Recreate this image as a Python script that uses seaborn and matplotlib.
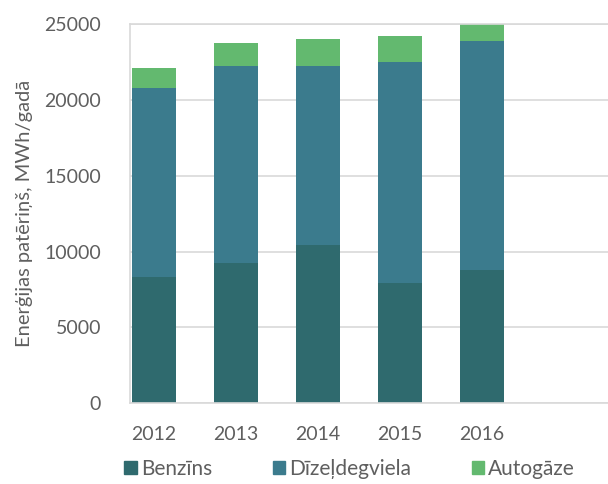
import numpy as np
import pandas as pd
import matplotlib
matplotlib.use("Agg")
import matplotlib.pyplot as plt
from matplotlib.patches import Patch
import seaborn as sns

years = ["2012", "2013", "2014", "2015", "2016"]
benzins = [8350, 9250, 10450, 7900, 8800]
dizeldegviela = [12450, 12950, 11750, 14600, 15050]
autogaze = [1300, 1550, 1800, 1700, 1150]

c_benz = "#2f6a6e"
c_diz = "#3b7b8d"
c_auto = "#63b96f"
text_c = "#5f5f5f"

sns.set_style("white")
plt.rcParams["font.family"] = ["Lato", "DejaVu Sans"]

df = pd.DataFrame({"year": years, "benz": benzins, "diz": dizeldegviela, "auto": autogaze})
df["lvl2"] = df["benz"] + df["diz"]
df["lvl3"] = df["lvl2"] + df["auto"]

fig = plt.figure(figsize=(6.08, 4.84), dpi=100)
ax = fig.add_axes([0.214, 0.1667, 0.786, 0.7837])

# stacked bars: draw cumulative totals from the top layer down
for col, color in [("lvl3", c_auto), ("lvl2", c_diz), ("benz", c_benz)]:
    sns.barplot(data=df, x="year", y=col, color=color, width=0.54,
                saturation=1, linewidth=0, ax=ax, order=years)

ax.set_xlim(-0.293, 5.537)
ax.set_ylim(0, 25000)
ax.set_yticks(range(0, 25001, 5000))
ax.yaxis.grid(True, color="#d9d9d9", linewidth=1.2)
ax.set_axisbelow(True)
for side in ["left", "top", "bottom"]:
    ax.spines[side].set_color("#d9d9d9")
    ax.spines[side].set_linewidth(1.2)
ax.spines["right"].set_visible(False)

ax.tick_params(axis="both", length=0, labelsize=14, colors=text_c)
ax.tick_params(axis="y", pad=21)
ax.tick_params(axis="x", pad=16)
ax.set_xlabel("")
ax.set_ylabel("Enerģijas patēriņš, MWh/gadā", fontsize=14.5, color=text_c)
ax.yaxis.set_label_coords(-0.203, 0.5)

handles = [Patch(color=c_benz), Patch(color=c_diz), Patch(color=c_auto)]
labels = ["Benzīns", "Dīzeļdegviela", "Autogāze"]
fig.legend(handles, labels, loc="center", bbox_to_anchor=(0.575, 0.031), ncol=3,
           frameon=False, fontsize=15, labelcolor=text_c, handlelength=0.6,
           handleheight=0.6, handletextpad=0.2, columnspacing=2.9)

fig.savefig("out.png", dpi=100)
